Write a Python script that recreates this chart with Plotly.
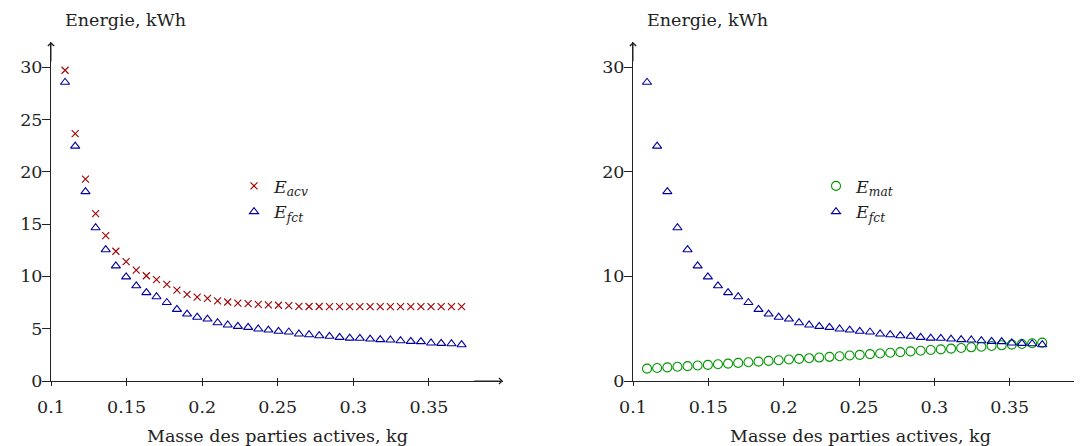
import plotly.graph_objects as go

# ---- data ----
masse = [0.1093, 0.1160, 0.1228, 0.1295, 0.1362, 0.1429, 0.1497, 0.1564, 0.1631, 0.1698,
         0.1766, 0.1833, 0.1900, 0.1967, 0.2035, 0.2102, 0.2169, 0.2236, 0.2304, 0.2371,
         0.2438, 0.2505, 0.2573, 0.2640, 0.2707, 0.2774, 0.2842, 0.2909, 0.2976, 0.3043,
         0.3111, 0.3178, 0.3245, 0.3312, 0.3380, 0.3447, 0.3514, 0.3581, 0.3649, 0.3716]

e_acv = [29.7, 23.65, 19.3, 16.0, 13.9, 12.4, 11.4, 10.6, 10.06, 9.68,
         9.23, 8.69, 8.28, 8.02, 7.9, 7.66, 7.55, 7.45, 7.4, 7.33,
         7.28, 7.24, 7.2, 7.14, 7.12, 7.12, 7.1, 7.1, 7.1, 7.1,
         7.1, 7.1, 7.1, 7.1, 7.1, 7.1, 7.1, 7.1, 7.1, 7.1]

e_fct = [28.55, 22.45, 18.1, 14.65, 12.55, 11.0, 9.95, 9.1, 8.45, 8.05,
         7.5, 6.85, 6.4, 6.1, 5.92, 5.57, 5.35, 5.22, 5.13, 4.97,
         4.87, 4.75, 4.68, 4.49, 4.42, 4.33, 4.27, 4.17, 4.1, 4.08,
         4.01, 3.95, 3.92, 3.85, 3.79, 3.76, 3.63, 3.6, 3.56, 3.47]

e_mat = [1.18, 1.24, 1.30, 1.36, 1.42, 1.48, 1.54, 1.60, 1.66, 1.73,
         1.79, 1.85, 1.92, 1.98, 2.05, 2.11, 2.18, 2.24, 2.31, 2.37,
         2.44, 2.50, 2.57, 2.63, 2.70, 2.76, 2.83, 2.89, 2.96, 3.02,
         3.09, 3.15, 3.22, 3.28, 3.35, 3.41, 3.48, 3.54, 3.61, 3.67]

x_ticks = [0.1, 0.15, 0.2, 0.25, 0.3, 0.35]
x_ticktext = ["0.1", "0.15", "0.2", "0.25", "0.3", "0.35"]
y_ticks_left = [0, 5, 10, 15, 20, 25, 30]
y_ticks_right = [0, 10, 20, 30]
y_title = "Energie, kWh"
x_title = "Masse des parties actives, kg"

# ---- style / layout (window pixels -> figure paper fractions) ----
OFF = 8                       # page body margin
W, H = 1082 - OFF, 446 - OFF  # figure size


def px(x):
    return (x - OFF) / W


def py(y):
    return (H - (y - OFF)) / H


FONT = "DejaVu Serif"
FS = 17.5
AX = "#222222"
RED = "rgb(160,0,0)"
BLUE = "rgb(0,0,160)"
GREEN = "rgb(0,150,0)"

X_RANGE_L = [0.1, 0.399]
X_RANGE_R = [0.1, 0.398]
Y_RANGE = [0, 32.4]
dom_xl = [px(51), px(503)]
dom_xr = [px(633), 1.0]
dom_y = [py(381), py(42)]

fig = go.Figure()

fig.add_trace(go.Scatter(x=masse, y=e_acv, mode="markers", name="<i>E</i><sub><i>acv</i></sub>",
                         marker=dict(symbol="x-thin-open", size=7, color=RED, line=dict(color=RED, width=1.1)),
                         xaxis="x", yaxis="y", legend="legend"))
fig.add_trace(go.Scatter(x=masse, y=e_fct, mode="markers", name="<i>E</i><sub><i>fct</i></sub>",
                         marker=dict(symbol="triangle-up-open", size=8, color=BLUE, line=dict(color=BLUE, width=1.1)),
                         xaxis="x", yaxis="y", legend="legend"))
fig.add_trace(go.Scatter(x=masse, y=e_mat, mode="markers", name="<i>E</i><sub><i>mat</i></sub>",
                         marker=dict(symbol="circle-open", size=9, color=GREEN, line=dict(color=GREEN, width=1.1)),
                         xaxis="x2", yaxis="y2", legend="legend2"))
fig.add_trace(go.Scatter(x=masse, y=e_fct, mode="markers", name="<i>E</i><sub><i>fct</i></sub>",
                         marker=dict(symbol="triangle-up-open", size=8, color=BLUE, line=dict(color=BLUE, width=1.1)),
                         xaxis="x2", yaxis="y2", legend="legend2"))

tickfont = dict(family=FONT, size=FS, color=AX)


def xaxis(dom, rng, anchor):
    return dict(domain=dom, range=rng, anchor=anchor, tickvals=x_ticks, ticktext=x_ticktext,
                showline=True, linecolor=AX, linewidth=1, ticks="outside", ticklen=4, tickwidth=1,
                tickcolor=AX, tickfont=tickfont, showgrid=False, zeroline=False, ticklabelstandoff=6,
                automargin=False)


def yaxis(rng, anchor, tv):
    return dict(domain=dom_y, range=rng, anchor=anchor, tickvals=tv,
                showline=True, linecolor=AX, linewidth=1, ticks="outside", ticklen=4, tickwidth=1,
                tickcolor=AX, tickfont=tickfont, showgrid=False, zeroline=False,
                automargin=False)


def x_in(over, rng, anchor):
    return dict(overlaying=over, range=rng, anchor=anchor, tickvals=x_ticks, showticklabels=False,
                ticks="inside", ticklen=3, tickwidth=1, tickcolor=AX, showline=False,
                showgrid=False, zeroline=False, automargin=False)


def y_out(over, rng, anchor, tv):
    return dict(overlaying=over, range=rng, anchor=anchor, tickvals=tv, showticklabels=False,
                ticks="outside", ticklen=8, tickwidth=1, tickcolor=AX, showline=False,
                showgrid=False, zeroline=False, automargin=False)


legend_font = dict(family=FONT, size=FS, color=AX)

fig.update_layout(
    template="none",
    width=W, height=H, autosize=False,
    margin=dict(l=0, r=0, t=0, b=0, pad=0),
    paper_bgcolor="white", plot_bgcolor="white",
    font=dict(family=FONT, size=FS, color=AX),
    xaxis=xaxis(dom_xl, X_RANGE_L, "y"),
    yaxis=yaxis(Y_RANGE, "x", y_ticks_left),
    xaxis2=xaxis(dom_xr, X_RANGE_R, "y2"),
    yaxis2=yaxis(Y_RANGE, "x2", y_ticks_right),
    xaxis3=x_in("x", X_RANGE_L, "y3"),
    yaxis3=y_out("y", Y_RANGE, "x3", y_ticks_left),
    xaxis4=x_in("x2", X_RANGE_R, "y4"),
    yaxis4=y_out("y2", Y_RANGE, "x4", y_ticks_right),
    legend=dict(x=px(234), y=py(168), xanchor="left", yanchor="top",
                bgcolor="rgba(0,0,0,0)", font=legend_font, tracegroupgap=0, itemwidth=30),
    legend2=dict(x=px(816), y=py(168), xanchor="left", yanchor="top",
                 bgcolor="rgba(0,0,0,0)", font=legend_font, tracegroupgap=0, itemwidth=30),
    showlegend=True,
)

# invisible traces to instantiate overlay axes
fig.add_trace(go.Scatter(x=[None], y=[None], xaxis="x3", yaxis="y3", showlegend=False, hoverinfo="skip"))
fig.add_trace(go.Scatter(x=[None], y=[None], xaxis="x4", yaxis="y4", showlegend=False, hoverinfo="skip"))

annotations = []
# axis arrows
arrow = dict(showarrow=True, arrowhead=4, arrowsize=1.2, arrowwidth=1, arrowcolor=AX, text="")
annotations.append(dict(x=0.1, y=Y_RANGE[1], ax=0.1, ay=Y_RANGE[1] - 2, xref="x", yref="y",
                        axref="x", ayref="y", **arrow))
annotations.append(dict(x=X_RANGE_L[1], y=0, ax=X_RANGE_L[1] - 0.02, ay=0, xref="x", yref="y",
                        axref="x", ayref="y", **arrow))
annotations.append(dict(x=0.1, y=Y_RANGE[1], ax=0.1, ay=Y_RANGE[1] - 2, xref="x2", yref="y2",
                        axref="x2", ayref="y2", **arrow))
# titles
for xl, xc in [(63, 277), (645, 860)]:
    annotations.append(dict(x=px(xl), y=py(20), xref="paper", yref="paper", text=y_title,
                            showarrow=False, xanchor="left", yanchor="middle",
                            font=dict(family=FONT, size=FS, color=AX)))
    annotations.append(dict(x=px(xc), y=py(436), xref="paper", yref="paper", text=x_title,
                            showarrow=False, xanchor="center", yanchor="middle",
                            font=dict(family=FONT, size=FS, color=AX)))
fig.update_layout(annotations=annotations)

fig.write_html("out.html")
